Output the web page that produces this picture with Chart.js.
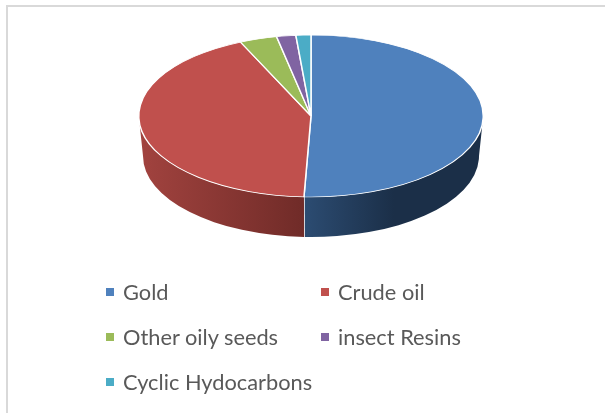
<!DOCTYPE html>
<html>
<head>
<meta charset="utf-8">
<script src="https://cdn.jsdelivr.net/npm/chart.js@4/dist/chart.umd.min.js"></script>
<style>
  html, body { margin: 0; padding: 0; background: #fff; overflow: hidden; }
  #wrap { position: relative; width: 605px; height: 413px; }
  #frame { position: absolute; left: 6px; top: 5px; right: 0; bottom: 0; border-left: 2px solid #d9d9d9; border-top: 2px solid #d9d9d9; }
  canvas { position: absolute; left: 0; top: 0; }
  .item { position: absolute; font: 21.8px Lato, sans-serif; color: #595959; white-space: nowrap; line-height: 24px; }
  .item i { position: absolute; left: -17px; top: 8px; width: 8px; height: 8px; }
</style>
</head>
<body>
<div id="wrap">
  <div id="frame"></div>
  <canvas id="chart" width="605" height="413"></canvas>
  <div id="legend"></div>
</div>
<script>
const labels = ["Gold", "Crude oil", "Other oily seeds", "insect Resins", "Cyclic Hydocarbons"];
const shares = [50.6, 42.6, 3.5, 1.8, 1.4];
const colors = ["#4f81bd", "#c0504d", "#9bbb59", "#8064a2", "#4bacc6"];

// left/right ends of the wall shading, per slice (only the two front slices show)
const wallColors = [["#2c4c72", "#1b2f48"], ["#a2433f", "#702b28"]];
const legendSpots = [[123, 280], [338, 280], [123, 325], [338, 325], [123, 370]];

// top face of the pie on the page
const faceY = 116, faceRy = 81;
// wall bottom
const wallDrop = 40, wallRx = 168;

const squash = {
    id: "squash",
    beforeDatasetsDraw(chart) {
        const ctx = chart.ctx;
        const arc = chart.getDatasetMeta(0).data[0];
        const r = arc.outerRadius;

        // side wall, drawn in page coordinates from the arc angles
        chart.getDatasetMeta(0).data.forEach(function(a, i) {
            const from = Math.max(a.startAngle, 0);
            const to = Math.min(a.endAngle, Math.PI);
            if (to <= from || !wallColors[i]) return;

            const x1 = a.x + r * Math.cos(from), x2 = a.x + r * Math.cos(to);
            const g = i === 0
                ? ctx.createLinearGradient(x2, 0, x2 + 90, 0)
                : ctx.createLinearGradient(x2, 0, x1, 0);
            g.addColorStop(0, wallColors[i][0]);
            g.addColorStop(1, wallColors[i][1]);

            ctx.beginPath();
            ctx.ellipse(a.x, faceY, r, faceRy, 0, from, to);
            ctx.ellipse(a.x, faceY + wallDrop, wallRx, faceRy, 0, to, from, true);
            ctx.closePath();
            ctx.fillStyle = g;
            ctx.fill();

            // seam between the two walls
            if (i === 0) {
                ctx.beginPath();
                ctx.moveTo(a.x + r * Math.cos(to), faceY + faceRy * Math.sin(to));
                ctx.lineTo(a.x + wallRx * Math.cos(to), faceY + wallDrop + faceRy * Math.sin(to));
                ctx.strokeStyle = "#ffffff";
                ctx.lineWidth = 1.5;
                ctx.stroke();
            }
        });

        // flatten the round pie into the top ellipse
        ctx.save();
        ctx.translate(0, faceY);
        ctx.scale(1, faceRy / r);
        ctx.translate(0, -arc.y);
    },
    afterDatasetsDraw(chart) {
        chart.ctx.restore();
    }
};

const chart = new Chart(document.getElementById("chart"), {
    type: "pie",
    data: {
        labels: labels,
        datasets: [{
            data: shares,
            backgroundColor: colors,
            borderColor: "#ffffff",
            borderWidth: 1.5
        }]
    },
    options: {
        responsive: false,
        animation: false,
        layout: { padding: { left: 138, right: 121, top: 0, bottom: 67 } },
        plugins: { legend: { display: false }, tooltip: { enabled: false } }
    },
    plugins: [squash]
});

const legend = document.getElementById("legend");
labels.forEach(function(name, i) {
    const d = document.createElement("div");
    d.className = "item";
    d.style.left = legendSpots[i][0] + "px";
    d.style.top = legendSpots[i][1] + "px";
    d.innerHTML = '<i style="background:' + colors[i] + '"></i>' + name;
    legend.appendChild(d);
});
</script>
</body>
</html>
